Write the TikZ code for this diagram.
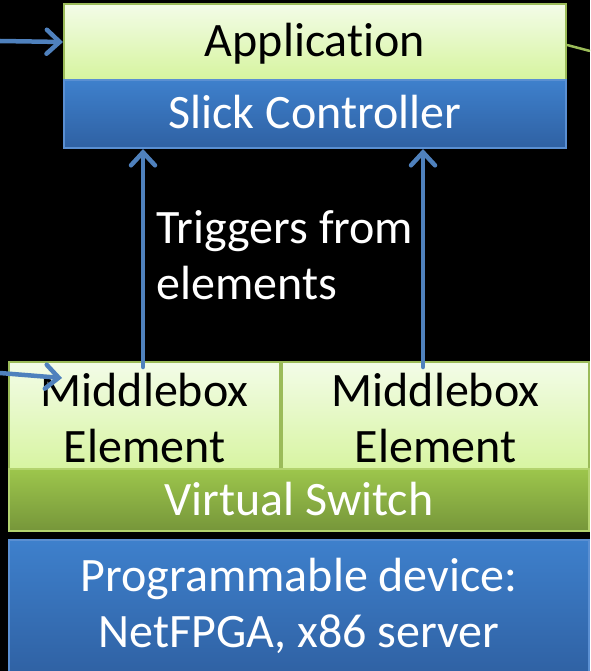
\documentclass[tikz,border=0pt]{standalone}
\usepackage{fontspec}
\setmainfont{Carlito}[Ligatures=NoCommon]
\usetikzlibrary{arrows.meta,calc}
\definecolor{arrowblue}{HTML}{4F81BD}
\definecolor{lgtop}{HTML}{F3FCE8}
\definecolor{lgbot}{HTML}{D6F49E}
\definecolor{lgedge}{HTML}{9BBB59}
\definecolor{bltop}{HTML}{3E80CC}
\definecolor{blbot}{HTML}{2F61A3}
\definecolor{bledge}{HTML}{5A8FD2}
\definecolor{gntop}{HTML}{9DC64C}
\definecolor{gnbot}{HTML}{76963A}
\definecolor{gnedge}{HTML}{B3D36E}
% lines of text with fixed struts, lowered a little inside their box
\newcommand{\boxtext}[2][0pt]{\raisebox{-#1}[\height][\depth]{\begin{tabular}[t]{@{}c@{}}#2\end{tabular}}}
\tikzset{
  txt/.style={font=\fontsize{48}{56}\selectfont, align=center, inner sep=0pt},
  lightbox/.style={txt, draw=lgedge, line width=2pt, top color=lgtop, bottom color=lgbot, text=black},
  bluebox/.style={txt, draw=bledge, line width=2pt, top color=bltop, bottom color=blbot, text=white},
  greenbox/.style={txt, draw=gnedge, line width=2pt, top color=gntop, bottom color=gnbot, text=white},
  flow/.style={draw=arrowblue, line width=4.5pt, line cap=round,
    -{Straight Barb[length=13pt, width=24pt, line cap=round]}},
}
\begin{document}
\begin{tikzpicture}[x=1pt, y=-1pt]
  \fill[black] (0,0) rectangle (590,671);
  \useasboundingbox (0,0) rectangle (590,671);

  % controller stack
  \node[lightbox, minimum width=502pt, minimum height=76pt] (app) at (315,42) {\boxtext[3.5pt]{Application}};
  \node[bluebox, minimum width=502pt, minimum height=68pt] (slick) at (315,114) {\boxtext[3.2pt]{Slick Controller}};

  % data-plane stack
  \node[lightbox, minimum width=271pt, minimum height=102pt] (mbl) at (144.5,418) {\boxtext[5.5pt]{Middlebox\\Element}};
  \node[lightbox, minimum width=307pt, minimum height=102pt] (mbr) at (435.5,418) {\boxtext[5.5pt]{Middlebox\\Element}};
  \node[greenbox, minimum width=580pt, minimum height=62pt] (vs) at (299,500) {\boxtext[3.8pt]{Virtual Switch}};
  \node[bluebox, minimum width=580pt, minimum height=136pt] (dev) at (299,608) {\boxtext[0.5pt]{Programmable device:\\NetFPGA, x86 server}};

  % trigger arrows up to the controller
  \coordinate (t1) at (143,367);
  \coordinate (t2) at (423,367);
  \draw[flow] (t1) -- (t1 |- slick.south);
  \draw[flow] (t2) -- (t2 |- slick.south);
  \node[txt, text=white, anchor=base west] (trig) at (156,243.3)
    {\begin{tabular}[t]{@{}l@{}}Triggers from\\elements\end{tabular}};

  % incoming connectors from the left
  \coordinate (in1) at (0,41);
  \coordinate (in2) at (0,373);
  \draw[flow] (in1) -- (app.west);
  \draw[flow] (in2) -- (62,378);

  % outgoing connector on the right
  \coordinate (out1) at (590,51);
  \draw[lgedge, line width=2.5pt] (app.east |- 0,45) -- (out1);
\end{tikzpicture}
\end{document}
